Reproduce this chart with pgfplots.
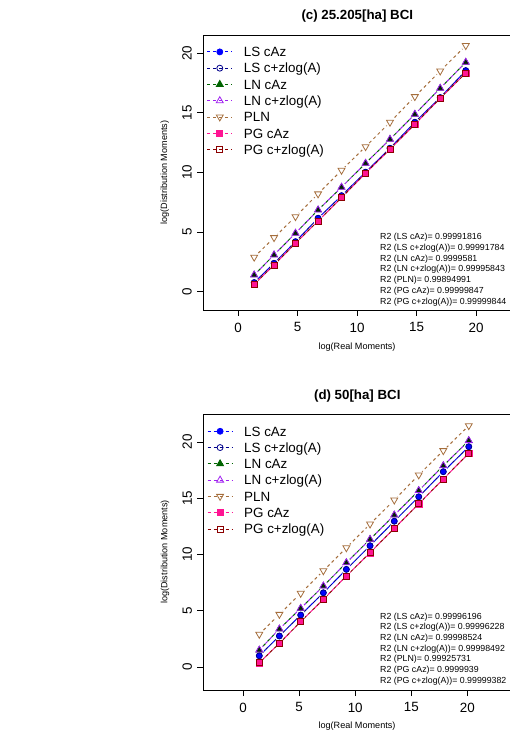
\documentclass[border=0pt]{standalone}
\usepackage{fontspec}
\setmainfont{Liberation Sans}
\usepackage{pgfplots}
\usepackage{pgfplotstable}
\pgfplotsset{compat=1.18}

\definecolor{rblue}{RGB}{0,0,255}
\definecolor{rdarkblue}{RGB}{0,0,139}
\definecolor{rdarkgreen}{RGB}{0,100,0}
\definecolor{rpurple}{RGB}{160,32,240}
\definecolor{rpln}{RGB}{165,110,60}
\definecolor{rdeeppink}{RGB}{255,20,147}
\definecolor{rdarkred}{RGB}{139,0,0}

% panel (c) 25.205 ha
\pgfplotstableread{
x     ls    lsz   ln    lnz   pln   pg    pgz
1.35  0.76  0.76  1.40  1.40  2.89  0.62  0.62
3.02  2.38  2.38  3.08  3.08  4.53  2.24  2.24
4.82  4.19  4.19  4.90  4.90  6.29  4.06  4.06
6.72  6.16  6.16  6.85  6.85  8.20  5.93  5.93
8.69  8.05  8.05  8.76  8.76  10.18 7.89  7.89
10.71 10.02 10.02 10.77 10.77 12.16 9.93  9.93
12.76 12.03 12.03 12.78 12.78 14.21 11.95 11.95
14.85 14.21 14.21 14.88 14.88 16.36 14.04 14.04
16.98 16.28 16.28 17.06 17.06 18.51 16.22 16.22
19.13 18.54 18.54 19.24 19.24 20.64 18.34 18.34
}\datac

% panel (d) 50 ha
\pgfplotstableread{
x     ls    lsz   ln    lnz   pln   pg    pgz
1.45  1.00  1.00  1.51  1.51  2.91  0.38  0.38
3.24  2.76  2.76  3.38  3.38  4.68  2.11  2.11
5.14  4.62  4.62  5.22  5.22  6.55  4.03  4.03
7.16  6.60  6.60  7.20  7.20  8.56  6.02  6.02
9.21  8.68  8.68  9.27  9.27  10.60 8.09  8.09
11.32 10.78 10.78 11.35 11.35 12.71 10.16 10.16
13.48 12.96 12.96 13.51 13.51 14.84 12.33 12.33
15.66 15.13 15.13 15.68 15.68 17.07 14.50 14.50
17.85 17.36 17.36 17.89 17.89 19.23 16.71 16.71
20.12 19.58 19.58 20.12 20.12 21.45 19.00 19.00
}\datad

\pgfplotsset{
  rpanel/.style={
    scale only axis, anchor=south west, width=308pt,
    xtick={0,5,10,15,20}, ytick={0,5,10,15,20},
    xtick pos=left, ytick pos=left,
    tick align=outside, major tick length=6pt,
    tick style={black, line width=0.9pt},
    axis line style={line width=0.9pt},
    ticklabel style={font=\fontsize{13.4}{16}\selectfont, inner sep=0pt},
    /pgf/number format/assume math mode=true,
    yticklabel style={rotate=90, anchor=south},
    xticklabel style={anchor=north},
    xticklabel shift=6.5pt, yticklabel shift=5pt,
    legend image code/.code={
      \draw[mark repeat=2, mark phase=2, #1] plot coordinates {(0pt,0pt) (12.5pt,0pt) (25pt,0pt)};
      \path[draw=none, fill=none] (0pt,0pt) -- (36.6pt,0pt);},
    legend cell align=left,
    legend style={draw=none, fill=none, anchor=north west, inner sep=0pt,
      row sep=6.67pt, font=\fontsize{13.4}{16}\selectfont,
      nodes={inner sep=0pt, anchor=west, text height=9.6pt, text depth=0pt}},
  },
  dl/.style={line width=1pt, dash pattern=on 3pt off 3pt, forget plot},
  dlz/.style={line width=1pt, dash pattern=on 3pt off 3pt, dash phase=3pt, forget plot},
  halo/.style={only marks, mark=*, mark size=4.5pt, mark options={draw=white, fill=white}, forget plot},
}

\newcommand\drawseries[1]{
  % lines
  \addplot[rblue, dl, no marks] table[x=x, y=ls] {#1};
  \addplot[rdarkblue, dlz, no marks] table[x=x, y=lsz] {#1};
  \addplot[rdarkgreen, dl, no marks] table[x=x, y=ln] {#1};
  \addplot[rpurple, dlz, no marks] table[x=x, y=lnz] {#1};
  \addplot[rpln, dl, no marks] table[x=x, y=pln] {#1};
  \addplot[rdeeppink, dl, no marks] table[x=x, y=pg] {#1};
  \addplot[rdarkred, dlz, no marks] table[x=x, y=pgz] {#1};
  % gaps round the points
  \addplot[halo] table[x=x, y=ls] {#1};
  \addplot[halo] table[x=x, y=ln] {#1};
  \addplot[halo] table[x=x, y=pln] {#1};
  \addplot[halo] table[x=x, y=pg] {#1};
  % points
  \addplot[only marks, forget plot, mark=*, mark size=3pt, rblue] table[x=x, y=ls] {#1};
  \addplot[only marks, forget plot, mark=o, mark size=3pt, rdarkblue, mark options={line width=0.8pt}] table[x=x, y=lsz] {#1};
  \addplot[only marks, forget plot, mark=triangle*, mark size=4pt, rdarkgreen!35!black] table[x=x, y=ln] {#1};
  \addplot[only marks, forget plot, mark=triangle, mark size=4pt, rpurple, mark options={line width=0.8pt}] table[x=x, y=lnz] {#1};
  \addplot[only marks, forget plot, mark=triangle, mark size=4pt, rpln, mark options={rotate=180, line width=0.8pt}] table[x=x, y=pln] {#1};
  \addplot[only marks, forget plot, mark=square*, mark size=3pt, rdeeppink] table[x=x, y=pg] {#1};
  \addplot[only marks, forget plot, mark=square, mark size=3pt, rdarkred, mark options={line width=0.8pt}] table[x=x, y=pgz] {#1};
  % legend
  \addlegendimage{rblue, line width=0.8pt, dash pattern=on 3pt off 3pt, mark=*, mark size=3pt, mark options={solid}}
  \addlegendentry{LS cAz}
  \addlegendimage{rdarkblue, line width=0.8pt, dash pattern=on 3pt off 3pt, mark=o, mark size=3pt, mark options={solid}}
  \addlegendentry{LS c+zlog(A)}
  \addlegendimage{rdarkgreen, line width=0.8pt, dash pattern=on 3pt off 3pt, mark=triangle*, mark size=4pt, mark options={solid}}
  \addlegendentry{LN cAz}
  \addlegendimage{rpurple, line width=0.8pt, dash pattern=on 3pt off 3pt, mark=triangle, mark size=4pt, mark options={solid}}
  \addlegendentry{LN c+zlog(A)}
  \addlegendimage{rpln, line width=0.8pt, dash pattern=on 3pt off 3pt, mark=triangle, mark size=4pt, mark options={solid, rotate=180}}
  \addlegendentry{PLN}
  \addlegendimage{rdeeppink, line width=0.8pt, dash pattern=on 3pt off 3pt, mark=square*, mark size=3pt, mark options={solid}}
  \addlegendentry{PG cAz}
  \addlegendimage{rdarkred, line width=0.8pt, dash pattern=on 3pt off 3pt, mark=square, mark size=3pt, mark options={solid}}
  \addlegendentry{PG c+zlog(A)}
}

\begin{document}
\begin{tikzpicture}[x=1pt, y=1pt]

% (c)
\begin{axis}[rpanel, at={(203pt,425pt)}, height=275pt,
  xmin=-2.95, xmax=22.93, ymin=-1.54, ymax=21.53,
  legend style={at={(0.012,0.9567)}}]
\drawseries{\datac}
\end{axis}
\node[font=\bfseries\fontsize{13.3}{16}\selectfont, anchor=base] at (357.3,715.2) {(c) 25.205[ha] BCI};
\node[font=\fontsize{9.1}{11}\selectfont, anchor=base] at (357,385.6) {log(Real Moments)};
\node[font=\fontsize{9.1}{11}\selectfont, anchor=base, rotate=90] at (167,562.5) {log(Distribution Moments)};
\node[font=\fontsize{8.8}{10.7}\selectfont, anchor=north west, align=left, inner sep=0pt] at (380,501.7)
  {R2 (LS cAz)= 0.99991816\\R2 (LS c+zlog(A))= 0.99991784\\R2 (LN cAz)= 0.9999581\\R2 (LN c+zlog(A))= 0.99995843\\R2 (PLN)= 0.99894991\\R2 (PG cAz)= 0.99999847\\R2 (PG c+zlog(A))= 0.99999844};

% (d)
\begin{axis}[rpanel, at={(203.3pt,45pt)}, height=275.7pt,
  xmin=-3.54, xmax=23.91, ymin=-2.04, ymax=22.46,
  legend style={at={(0.012,0.9565)}}]
\drawseries{\datad}
\end{axis}
\node[font=\bfseries\fontsize{13.3}{16}\selectfont, anchor=base] at (357.3,335.2) {(d) 50[ha] BCI};
\node[font=\fontsize{9.1}{11}\selectfont, anchor=base] at (357,6.6) {log(Real Moments)};
\node[font=\fontsize{9.1}{11}\selectfont, anchor=base, rotate=90] at (167.4,183) {log(Distribution Moments)};
\node[font=\fontsize{8.8}{10.7}\selectfont, anchor=north west, align=left, inner sep=0pt] at (380,122.4)
  {R2 (LS cAz)= 0.99996196\\R2 (LS c+zlog(A))= 0.99996228\\R2 (LN cAz)= 0.99998524\\R2 (LN c+zlog(A))= 0.99998492\\R2 (PLN)= 0.99925731\\R2 (PG cAz)= 0.9999939\\R2 (PG c+zlog(A))= 0.99999382};

\pgfresetboundingbox
\useasboundingbox (0,0) rectangle (510,735);
\end{tikzpicture}
\end{document}
